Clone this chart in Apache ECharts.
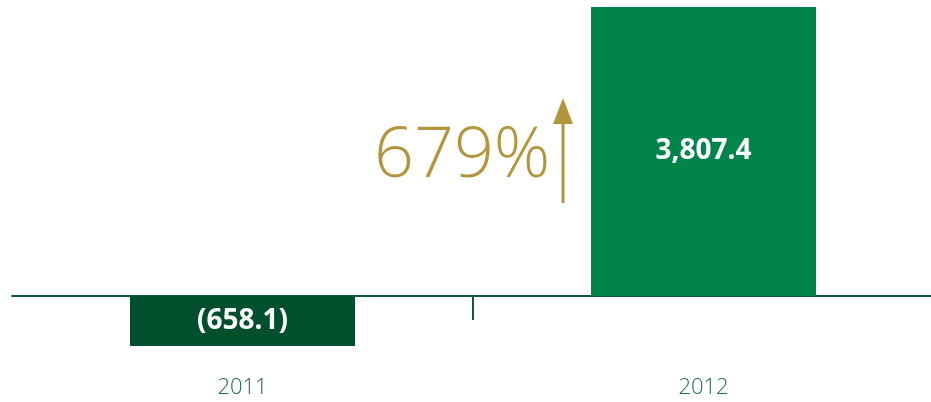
<!DOCTYPE html>
<html>
<head>
<meta charset="utf-8">
<script src="https://cdn.jsdelivr.net/npm/echarts@6/dist/echarts.min.js"></script>
<style>
  html, body { margin: 0; padding: 0; background: #ffffff; }
  #chart { width: 931px; height: 402px; }
</style>
</head>
<body>
<div id="chart"></div>
<script>
// Net result by year
const years = ['2011', '2012'];
const values = [-658.1, 3807.4];
const barColors = ['#00502e', '#00844a'];
const changeText = '679%';

const axisColor = '#0d5a3b';
const gold = '#b3963c';

function fmt(v) {
  const s = Math.abs(v).toLocaleString('en-US', { minimumFractionDigits: 1, maximumFractionDigits: 1 });
  return v < 0 ? '(' + s + ')' : s;
}

const chart = echarts.init(document.getElementById('chart'));
chart.setOption({
  animation: false,
  grid: { left: 12, right: -3, top: 7, bottom: 56, containLabel: false, outerBoundsMode: 'none' },
  xAxis: {
    type: 'category',
    data: years,
    axisLine: { onZero: true, lineStyle: { color: axisColor, width: 2 } },
    axisTick: { show: false },
    axisLabel: {
      color: '#246a4d',
      fontFamily: 'Open Sans',
      fontWeight: 300,
      fontSize: 22,
      margin: 31
    }
  },
  yAxis: {
    type: 'value',
    min: Math.min(...values),
    max: Math.max(...values),
    show: false,
    splitLine: { show: false }
  },
  series: [{
    type: 'bar',
    barWidth: 225,
    data: values.map((v, i) => ({ value: v, itemStyle: { color: barColors[i] } })),
    label: {
      show: true,
      position: 'inside',
      color: '#ffffff',
      fontFamily: 'Open Sans',
      fontWeight: 'bold',
      fontSize: 28,
      formatter: (p) => fmt(p.value)
    }
  }]
});

// Divider tick between the two year bands, placed from the axis scale
const c0 = chart.convertToPixel({ xAxisIndex: 0 }, 0);
const c1 = chart.convertToPixel({ xAxisIndex: 0 }, 1);
const zeroY = chart.convertToPixel({ yAxisIndex: 0 }, 0);
const midX = Math.round((c0 + c1) / 2);

chart.setOption({
  graphic: [
    {
      type: 'line',
      shape: { x1: midX, y1: zeroY, x2: midX, y2: zeroY + 24 },
      style: { stroke: axisColor, lineWidth: 2 }
    },
    {
      type: 'text',
      left: 374,
      top: 122,
      style: {
        text: changeText,
        fill: gold,
        font: '300 70px "Open Sans"'
      }
    },
    {
      type: 'line',
      shape: { x1: 563, y1: 118, x2: 563, y2: 203 },
      style: { stroke: gold, lineWidth: 3 }
    },
    {
      type: 'polygon',
      shape: { points: [[563, 98], [553, 124], [573, 124]] },
      style: { fill: gold }
    }
  ]
});
</script>
</body>
</html>
